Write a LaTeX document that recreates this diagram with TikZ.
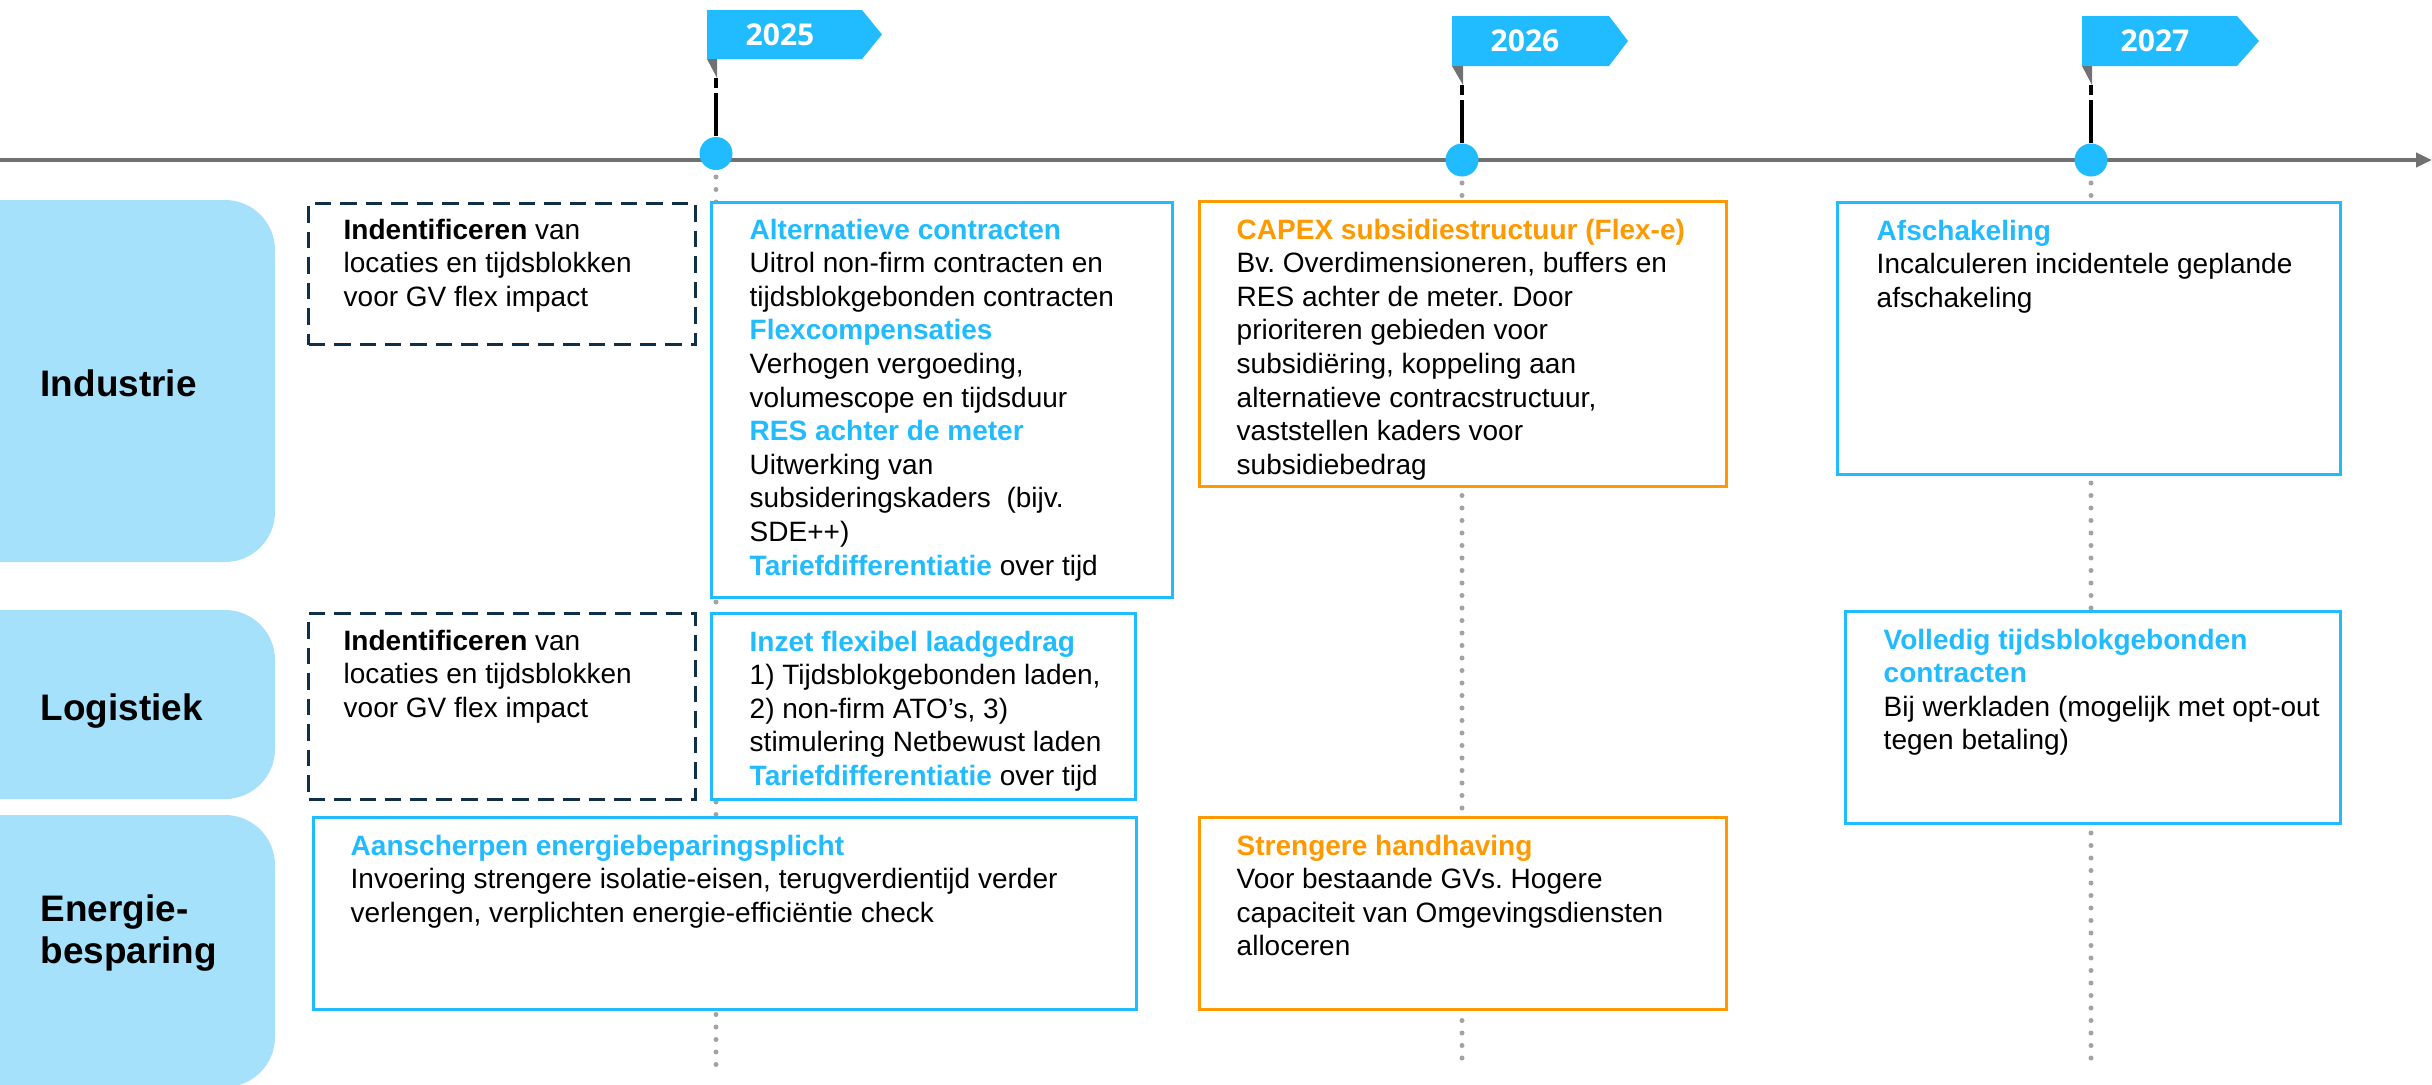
\documentclass[tikz,border=0pt]{standalone}
\usepackage{fontspec}
\setmainfont{Liberation Sans}
\newfontfamily\yearfont{Open Sans}
\usetikzlibrary{positioning,arrows.meta}

\definecolor{flagblue}{HTML}{21BBFF}
\definecolor{bandblue}{HTML}{A6E1FC}
\definecolor{capexorange}{HTML}{FF9900}
\definecolor{navy}{HTML}{10304A}
\definecolor{axisgray}{HTML}{707173}
\definecolor{guidegray}{HTML}{A3A3A3}

\newcommand{\bluehead}[1]{{\bfseries\color{flagblue}#1}}
\newcommand{\orangehead}[1]{{\bfseries\color{capexorange}#1}}

\begin{document}
\frenchspacing
\begin{tikzpicture}[
        bodytext/.style={font=\fontsize{7.97pt}{9.56pt}\selectfont, align=left, inner sep=0pt},
        catlabel/.style={font=\fontsize{10.5pt}{11.8pt}\selectfont\bfseries, align=left, inner sep=0pt, anchor=north west},
        yearlabel/.style={font=\yearfont\bfseries\fontsize{8.54pt}{10pt}\selectfont, text=white, inner sep=0pt},
        planbox/.style={fill=white, line width=0.03cm, inner sep=0pt, anchor=north west},
        bluebox/.style={planbox, draw=flagblue},
        orangebox/.style={planbox, draw=capexorange},
        dashbox/.style={planbox, draw=navy, dash pattern=on 0.165cm off 0.09cm},
        guide/.style={guidegray, line width=0.05cm, line cap=round, dash pattern=on 0pt off 0.125cm},
        pole/.style={black, line width=0.04cm, dash pattern=on 0.10cm off 0.05cm on 2cm off 0.05cm},
        milestone/.style={circle, fill=flagblue, minimum size=0.33cm, inner sep=0pt}
    ]
        \useasboundingbox (0,0) rectangle (24.32,-10.85);
        \clip (0,0) rectangle (24.32,-10.85);

        \fill[bandblue, rounded corners=0.5cm] (-0.6,-2.00) rectangle (2.75,-5.62);
        \fill[bandblue, rounded corners=0.5cm] (-0.6,-6.10) rectangle (2.75,-7.99);
        \fill[bandblue, rounded corners=0.5cm] (-0.6,-8.15) rectangle (2.75,-10.87);
        \node[catlabel] (industrie) at (0.40,-3.69) {Industrie};
        \node[catlabel] (logistiek) at (0.40,-6.935) {Logistiek};
        \node[catlabel] (energie) at (0.40,-8.945) {Energie-\\besparing};

        \coordinate (t0) at (0,-1.60);
        \coordinate (t1) at (24.32,-1.60);
        \draw[axisgray, line width=0.04cm, -{Triangle[length=0.16cm, width=0.14cm]}] (t0) -- (t1);

        \begin{scope}[shift={(7.16,-0.10)}]
            \draw[guide] (0,-1.67) -- (0,-10.55);
            \fill[flagblue] (-0.09,0) -- (1.46,0) -- (1.66,-0.245) -- (1.46,-0.49) -- (-0.09,-0.49) -- cycle;
            \fill[axisgray] (-0.09,-0.49) -- (0.01,-0.49) -- (0.01,-0.68) -- cycle;
            \node[yearlabel] (y2025) at (0.64,-0.245) {2025};
            \coordinate (p2025) at (0,-0.68);
            \node[milestone] (d2025) at (0,-1.435) {};
            \draw[pole] (p2025) -- (d2025);
        \end{scope}
        \begin{scope}[shift={(14.62,-0.16)}]
            \draw[guide] (0,-1.67) -- (0,-10.49);
            \fill[flagblue] (-0.10,0) -- (1.47,0) -- (1.66,-0.25) -- (1.47,-0.50) -- (-0.10,-0.50) -- cycle;
            \fill[axisgray] (-0.10,-0.50) -- (0.01,-0.50) -- (0.01,-0.69) -- cycle;
            \node[yearlabel] (y2026) at (0.63,-0.25) {2026};
            \coordinate (p2026) at (0,-0.69);
            \node[milestone] (d2026) at (0,-1.44) {};
            \draw[pole] (p2026) -- (d2026);
        \end{scope}
        \begin{scope}[shift={(20.91,-0.16)}]
            \draw[guide] (0,-1.67) -- (0,-10.49);
            \fill[flagblue] (-0.09,0) -- (1.46,0) -- (1.68,-0.25) -- (1.46,-0.50) -- (-0.09,-0.50) -- cycle;
            \fill[axisgray] (-0.09,-0.50) -- (0.01,-0.50) -- (0.01,-0.69) -- cycle;
            \node[yearlabel] (y2027) at (0.64,-0.25) {2027};
            \coordinate (p2027) at (0,-0.69);
            \node[milestone] (d2027) at (0,-1.44) {};
            \draw[pole] (p2027) -- (d2027);
        \end{scope}

        \node[dashbox, minimum width=3.87cm, minimum height=1.41cm] (indind) at (3.07,-2.02) {};
        \node[bodytext, below right=0.16cm and 0.36cm of indind.north west] (indindt)
            {\textbf{Indentificeren} van\\locaties en tijdsblokken\\voor GV flex impact};
        \node[bluebox, minimum width=4.61cm, minimum height=3.95cm] (altind) at (7.10,-2.01) {};
        \node[bodytext, below right=0.17cm and 0.39cm of altind.north west] (altindt)
            {\bluehead{Alternatieve contracten}\\
             Uitrol non-firm contracten en\\
             tijdsblokgebonden contracten\\
             \bluehead{Flexcompensaties}\\
             Verhogen vergoeding,\\
             volumescope en tijdsduur\\
             \bluehead{RES achter de meter}\\
             Uitwerking van\\
             subsideringskaders~ (bijv.\\
             SDE++)\\
             \bluehead{Tariefdifferentiatie} over tijd};
        \node[orangebox, minimum width=5.27cm, minimum height=2.85cm] (capind) at (11.98,-2.00) {};
        \node[bodytext, below right=0.18cm and 0.38cm of capind.north west] (capindt)
            {\orangehead{CAPEX subsidiestructuur (Flex-e)}\\
             Bv. Overdimensioneren, buffers en\\
             RES achter de meter. Door\\
             prioriteren gebieden voor\\
             subsidiëring, koppeling aan\\
             alternatieve contracstructuur,\\
             vaststellen kaders voor\\
             subsidiebedrag};
        \node[bluebox, minimum width=5.03cm, minimum height=2.72cm] (afsind) at (18.36,-2.01) {};
        \node[bodytext, below right=0.18cm and 0.40cm of afsind.north west] (afsindt)
            {\bluehead{Afschakeling}\\
             Incalculeren incidentele geplande\\
             afschakeling};

        \node[dashbox, minimum width=3.87cm, minimum height=1.86cm] (indlog) at (3.07,-6.12) {};
        \node[bodytext, below right=0.17cm and 0.36cm of indlog.north west] (indlogt)
            {\textbf{Indentificeren} van\\locaties en tijdsblokken\\voor GV flex impact};
        \node[bluebox, minimum width=4.24cm, minimum height=1.86cm] (inzlog) at (7.10,-6.12) {};
        \node[bodytext, below right=0.18cm and 0.39cm of inzlog.north west] (inzlogt)
            {\bluehead{Inzet flexibel laadgedrag}\\
             1) Tijdsblokgebonden laden,\\
             2) non-firm ATO's, 3)\\
             stimulering Netbewust laden\\
             \bluehead{Tariefdifferentiatie} over tijd};
        \node[bluebox, minimum width=4.95cm, minimum height=2.12cm] (vollog) at (18.44,-6.10) {};
        \node[bodytext, below right=0.18cm and 0.39cm of vollog.north west] (vollogt)
            {\bluehead{Volledig tijdsblokgebonden}\\
             \bluehead{contracten}\\
             Bij werkladen (mogelijk met opt-out\\
             tegen betaling)};

        \node[bluebox, minimum width=8.23cm, minimum height=1.92cm] (aanene) at (3.12,-8.16) {};
        \node[bodytext, below right=0.18cm and 0.38cm of aanene.north west] (aanenet)
            {\bluehead{Aanscherpen energiebeparingsplicht}\\
             Invoering strengere isolatie-eisen, terugverdientijd verder\\
             verlengen, verplichten energie-efficiëntie check};
        \node[orangebox, minimum width=5.27cm, minimum height=1.92cm] (strene) at (11.98,-8.16) {};
        \node[bodytext, below right=0.18cm and 0.38cm of strene.north west] (strenet)
            {\orangehead{Strengere handhaving}\\
             Voor bestaande GVs. Hogere\\
             capaciteit van Omgevingsdiensten\\
             alloceren};
    \end{tikzpicture}
\end{document}
